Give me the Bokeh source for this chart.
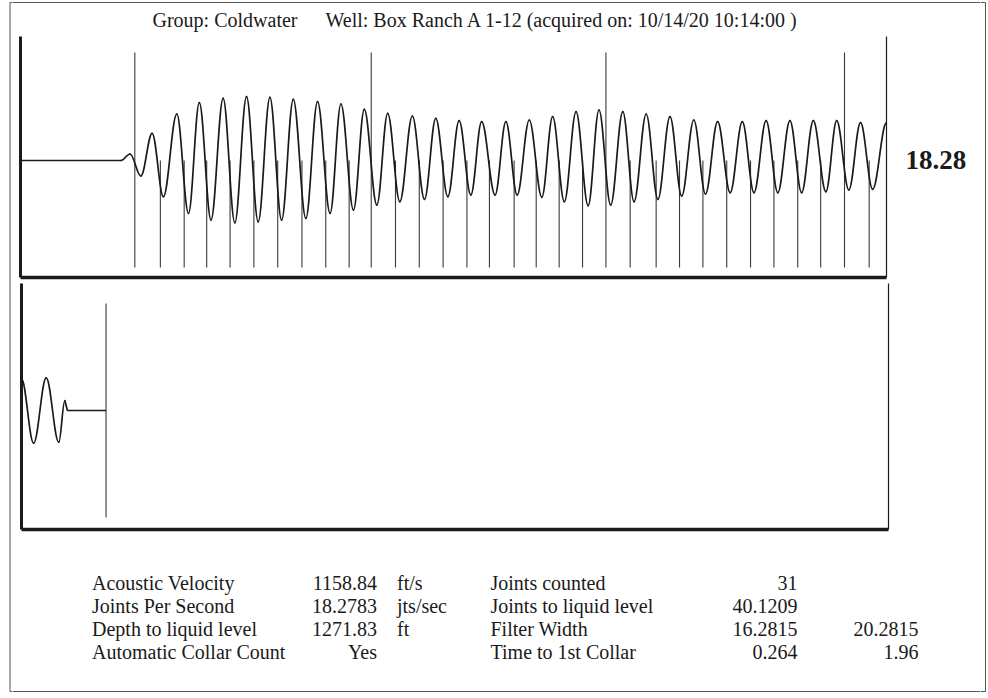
from bokeh.plotting import figure
from bokeh.models import Range1d, LinearAxis, FixedTicker
from bokeh.layouts import column, row
from bokeh.embed import file_html
from bokeh.resources import INLINE
from bokeh.core.properties import value

# ---------------- data ----------------
title_group = "Group: Coldwater"
title_well = "Well: Box Ranch A 1-12 (acquired on: 10/14/20 10:14:00 )"
jps_display = "18.28"

# collar (joint) marker times, seconds
collar_times = [0.264, 0.323, 0.378, 0.430, 0.484, 0.539, 0.594, 0.650, 0.705, 0.759,
                0.810, 0.866, 0.921, 0.976, 1.031, 1.083, 1.140, 1.191, 1.244, 1.298,
                1.352, 1.408, 1.468, 1.522, 1.576, 1.631, 1.686, 1.740, 1.795, 1.848,
                1.903, 1.960]
tall_collar_index = [0, 10, 20, 30]

# upper trace: quiet part then peaks / troughs (time s, amplitude)
top_quiet_t = [0.000, 0.232]
top_quiet_amp = [0.0, 0.0]
top_ext_t = [0.232, 0.253, 0.278, 0.304, 0.330, 0.361, 0.388, 0.413, 0.440, 0.468,
             0.495, 0.522, 0.549, 0.576, 0.603, 0.630, 0.659, 0.686, 0.715, 0.740,
             0.769, 0.794, 0.823, 0.848, 0.876, 0.905, 0.933, 0.959, 0.987, 1.013,
             1.040, 1.065, 1.096, 1.121, 1.147, 1.175, 1.204, 1.229, 1.256, 1.283,
             1.311, 1.336, 1.363, 1.391, 1.417, 1.445, 1.472, 1.500, 1.527, 1.555,
             1.582, 1.610, 1.639, 1.667, 1.694, 1.722, 1.749, 1.777, 1.804, 1.831,
             1.860, 1.885, 1.913, 1.940, 1.968, 2.000]
top_ext_amp = [0.0, 6.5, -15.5, 27.2, -36.2, 46.5, -52.8, 57.8, -59.5, 62.2,
               -62.2, 63.8, -61.2, 63.2, -59.5, 61.2, -57.8, 58.8, -52.8, 56.5,
               -49.5, 51.2, -44.5, 47.2, -41.2, 44.5, -38.8, 42.2, -36.2, 39.8,
               -34.5, 38.8, -34.5, 38.8, -34.5, 40.5, -36.8, 43.8, -41.2, 48.8,
               -45.2, 50.5, -44.5, 48.8, -41.2, 46.5, -38.8, 43.8, -35.5, 40.5,
               -33.5, 38.8, -32.2, 38.8, -32.2, 39.8, -32.2, 39.8, -32.2, 39.8,
               -31.2, 39.8, -29.5, 37.8, -28.8, 37.8]

# lower trace (liquid level echo window)
bot_ext_t = [2.000, 2.028, 2.057, 2.086, 2.100]
bot_ext_amp = [31.7, -32.7, 32.7, -31.7, 10.0]
bot_tail_t = [2.100, 2.106, 2.195]
bot_tail_amp = [10.0, 0.0, 0.0]

# table
left_labels = ["Acoustic Velocity", "Joints Per Second", "Depth to liquid level", "Automatic Collar Count"]
left_values = ["1158.84", "18.2783", "1271.83", "Yes"]
left_units = ["ft/s", "jts/sec", "ft", ""]
right_labels = ["Joints counted", "Joints to liquid level", "Filter Width", "Time to 1st Collar"]
right_values = ["31", "40.1209", "16.2815", "0.264"]
extra_values = ["", "", "20.2815", "1.96"]

velocity = 1158.84
depth = 1271.83
liquid_level_time = 2 * depth / velocity

# ---------------- styling ----------------
INK = "#1a1a1a"
FRAME = "#555555"
SERIF = value("Liberation Serif")
K = 0.364  # bezier handle fraction for smooth half-waves


def smooth_wave(p, ts, amps, **kw):
    x0, x1 = ts[:-1], ts[1:]
    y0, y1 = amps[:-1], amps[1:]
    cx0 = [a + K * (b - a) for a, b in zip(x0, x1)]
    cx1 = [b - K * (b - a) for a, b in zip(x0, x1)]
    p.bezier(x0=x0, y0=y0, x1=x1, y1=y1, cx0=cx0, cy0=y0, cx1=cx1, cy1=y1, **kw)


def frame_axis(width):
    return LinearAxis(ticker=FixedTicker(ticks=[]), axis_line_width=width, axis_line_color=INK,
                      major_tick_line_color=None, minor_tick_line_color=None,
                      major_label_text_font_size="0px", major_tick_in=0, major_tick_out=0,
                      minor_tick_in=0, minor_tick_out=0, major_label_standoff=0)


def panel(width, height, xr, yr, left, right, top, bottom):
    return figure(width=width, height=height, x_range=xr, y_range=yr,
                  x_axis_type=None, y_axis_type=None, output_backend="svg",
                  toolbar_location=None, min_border_left=left, min_border_right=right,
                  min_border_top=top, min_border_bottom=bottom, outline_line_color=None,
                  background_fill_color="white", border_fill_color="white",
                  frame_align=False)


def canvas(x0, x1, ytop, ybot):
    return figure(width=x1 - x0, height=ybot - ytop, x_range=Range1d(x0, x1),
                  y_range=Range1d(ybot, ytop), x_axis_type=None, y_axis_type=None,
                  output_backend="svg", toolbar_location=None, min_border=0,
                  outline_line_color=None, background_fill_color="white",
                  border_fill_color="white", frame_align=False)


W_TOTAL, H_TOTAL = 986, 696
FR_L, FR_R, FR_T, FR_B = 9.5, 985, 2, 691
MID = dict(text_baseline="middle")

# ---------------- outer frame strips ----------------
left_strip = canvas(0, 12, 0, H_TOTAL)
left_strip.segment(x0=[FR_L, FR_L, FR_L], y0=[FR_T, FR_T, FR_B], x1=[FR_L, 12, 12], y1=[FR_B, FR_T, FR_B],
                   line_color=FRAME, line_width=1)
right_strip = canvas(980, W_TOTAL, 0, H_TOTAL)
right_strip.segment(x0=[FR_R, 980, 980], y0=[FR_T, FR_T, FR_B], x1=[FR_R, FR_R, FR_R], y1=[FR_B, FR_T, FR_B],
                    line_color=FRAME, line_width=1)

# ---------------- header ----------------
head = canvas(12, 980, 0, 36)
head.segment(x0=[12], y0=[FR_T], x1=[980], y1=[FR_T], line_color=FRAME, line_width=1)
head.text(x=[152, 325], y=[19.5, 19.5], text=[title_group, title_well], text_font=SERIF,
          text_font_size="20px", text_color=INK, text_align="left", **MID)

# ---------------- upper panel ----------------
top = panel(888 - 12, 282 - 36, Range1d(0, 2.0), Range1d(-117, 124), 8, 2, 0, 5)
top.add_layout(frame_axis(3), "left")
top.add_layout(frame_axis(3.5), "below")
top.add_layout(frame_axis(1.2), "right")

short_t = [t for i, t in enumerate(collar_times) if i not in tall_collar_index]
tall_t = [collar_times[i] for i in tall_collar_index]
top.segment(x0=short_t, y0=[-107] * len(short_t), x1=short_t, y1=[0] * len(short_t),
            line_color="#3a3a3a", line_width=1.1)
top.segment(x0=tall_t, y0=[-107] * len(tall_t), x1=tall_t, y1=[108] * len(tall_t),
            line_color="#3a3a3a", line_width=1.1)
top.line(top_quiet_t, top_quiet_amp, line_color=INK, line_width=1.7)
smooth_wave(top, top_ext_t, top_ext_amp, line_color=INK, line_width=1.7, line_cap="round")

side = canvas(888, 980, 36, 282)
side.text(x=[905], y=[159], text=[jps_display], text_font=SERIF, text_font_size="27px",
          text_font_style="bold", text_color=INK, text_align="left", **MID)

# ---------------- lower panel ----------------
bot = panel(980 - 12, 534 - 282, Range1d(2.0, 4.0), Range1d(-119, 127), 9, 92, 1, 5)
bot.add_layout(frame_axis(3), "left")
bot.add_layout(frame_axis(3.5), "below")
bot.add_layout(frame_axis(1.2), "right")
bot.segment(x0=[liquid_level_time], y0=[-107], x1=[liquid_level_time], y1=[107],
            line_color="#3a3a3a", line_width=1.1)
smooth_wave(bot, bot_ext_t, bot_ext_amp, line_color=INK, line_width=1.7, line_cap="round")
bot.line(bot_tail_t, bot_tail_amp, line_color=INK, line_width=1.7)

# ---------------- table ----------------
tab = canvas(12, 980, 534, H_TOTAL)
tab.segment(x0=[12], y0=[FR_B], x1=[980], y1=[FR_B], line_color=FRAME, line_width=1)
row_y = [582.5 + 23 * i for i in range(len(left_labels))]
common = dict(text_font=SERIF, text_font_size="20px", text_color=INK, **MID)
tab.text(x=[91.5] * 4, y=row_y, text=left_labels, text_align="left", **common)
tab.text(x=[376.5] * 4, y=row_y, text=left_values, text_align="right", **common)
tab.text(x=[396.5] * 4, y=row_y, text=left_units, text_align="left", **common)
tab.text(x=[490] * 4, y=row_y, text=right_labels, text_align="left", **common)
tab.text(x=[797] * 4, y=row_y, text=right_values, text_align="right", **common)
tab.text(x=[918] * 4, y=row_y, text=extra_values, text_align="right", **common)

middle = column(head, row(top, side), bot, tab)
layout = row(left_strip, middle, right_strip)

open("out.html", "w").write(file_html(layout, INLINE))
